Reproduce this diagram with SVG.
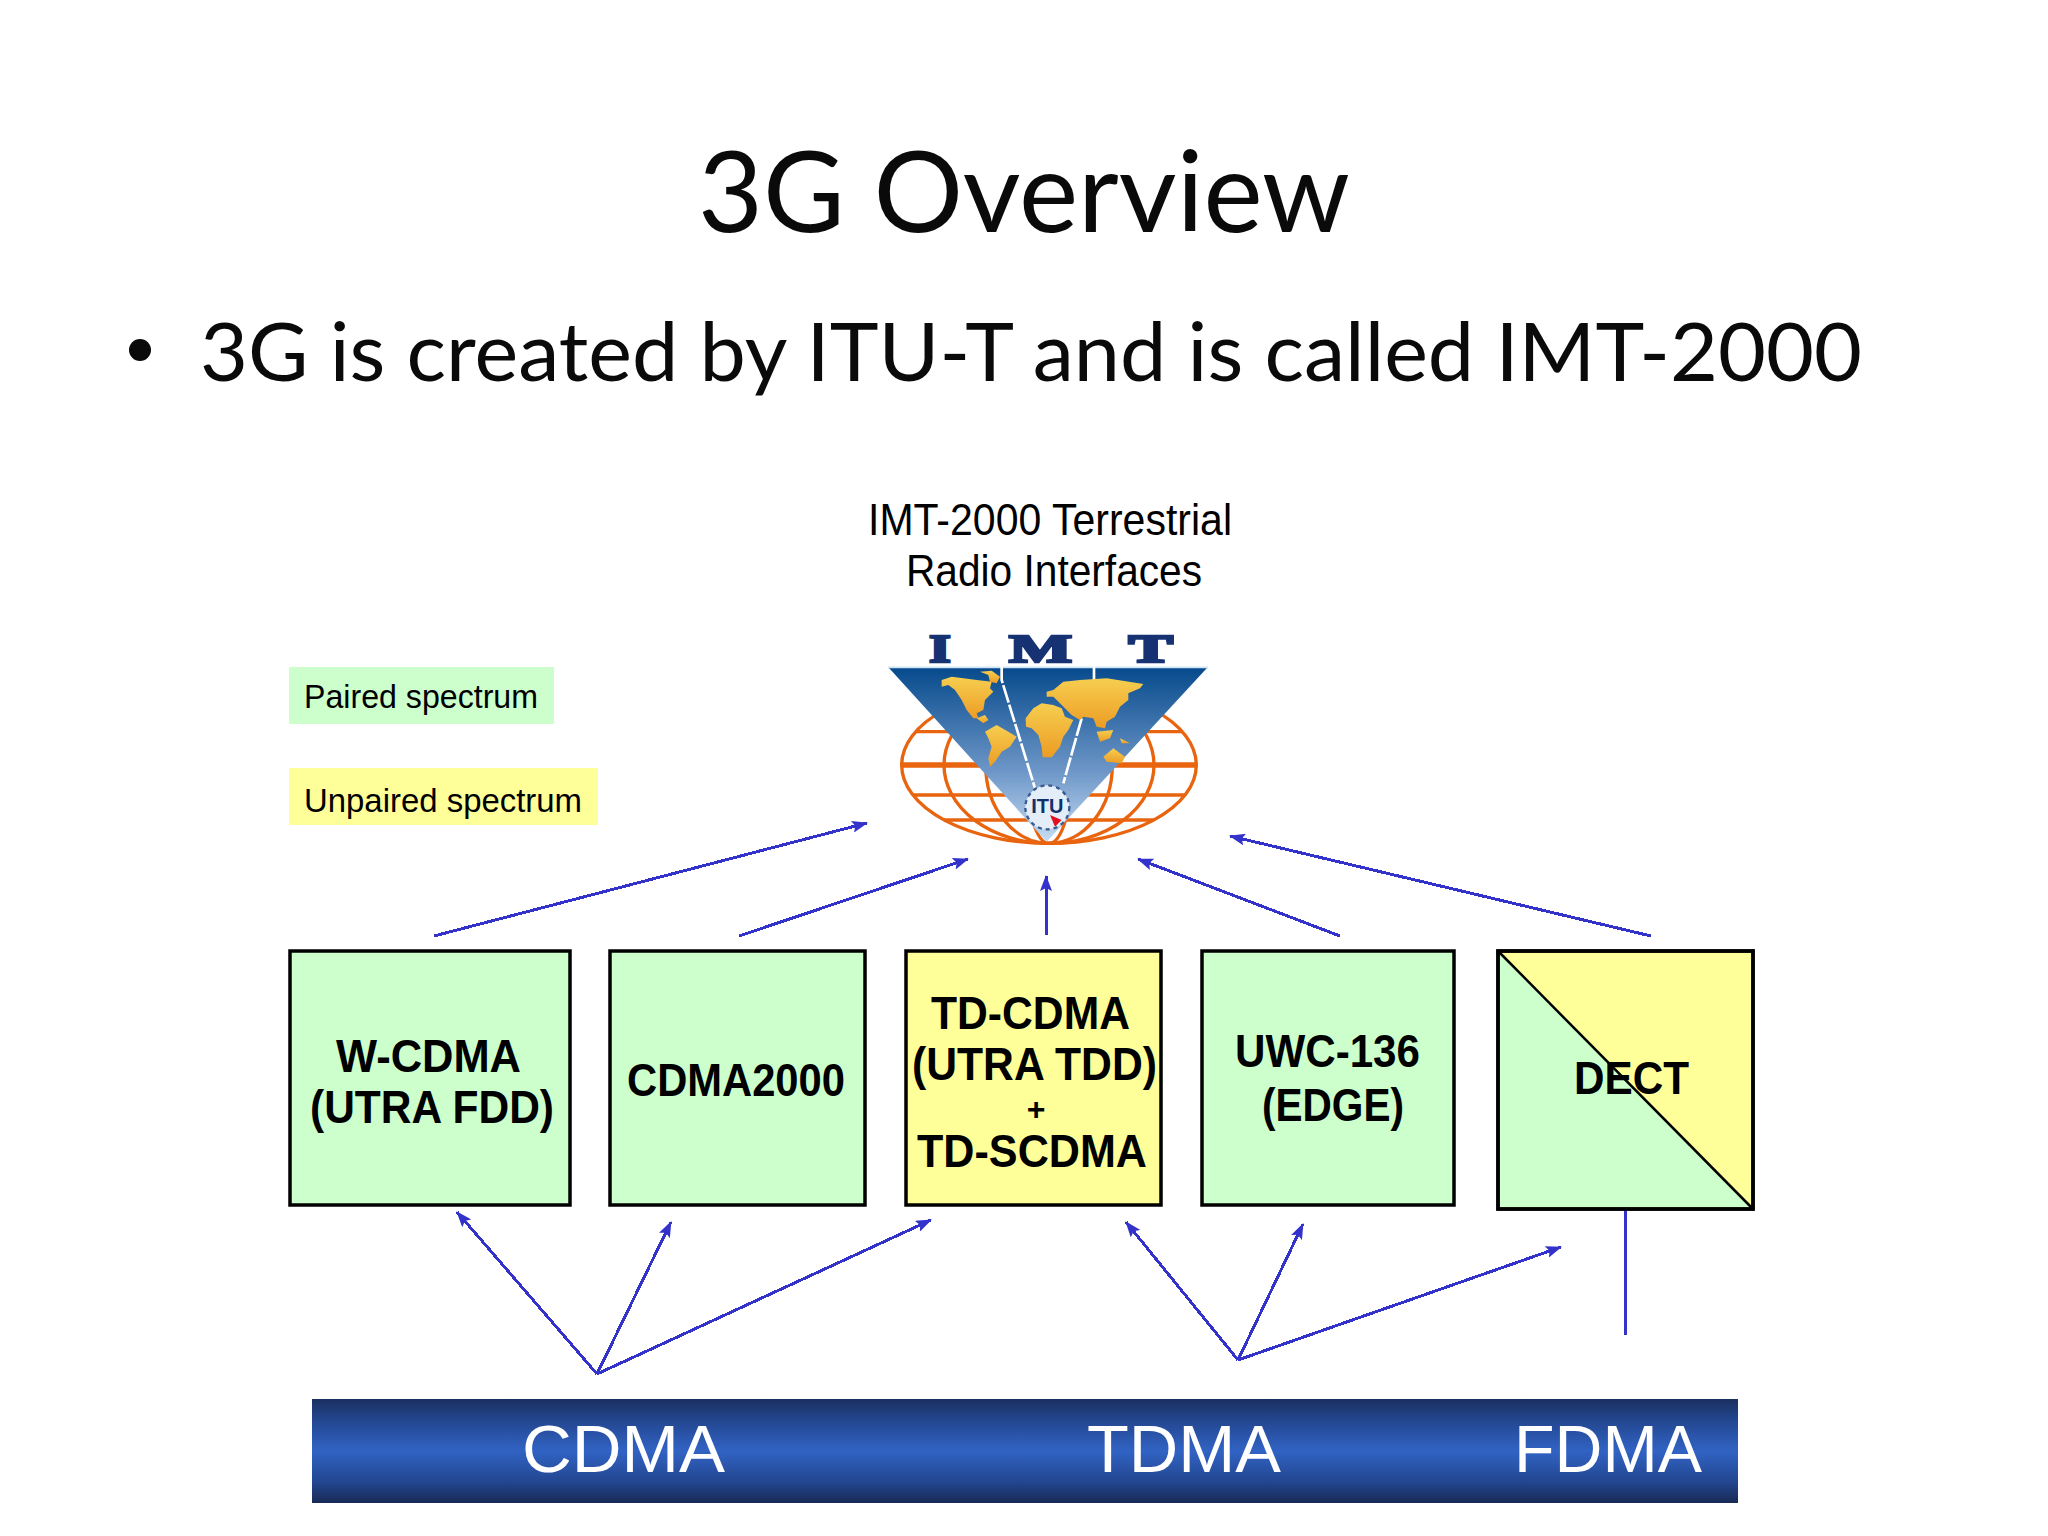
<svg xmlns="http://www.w3.org/2000/svg" width="2048" height="1536" viewBox="0 0 2048 1536">
<style>
.h{font-family:"Lato","Open Sans","Liberation Sans",sans-serif;fill:#0a0a0a}
.s{font-family:"Liberation Sans",Arial,sans-serif;fill:#000}
.b{font-weight:700;font-size:46px}
.box{stroke:#000;stroke-width:3.5}
.g{fill:#CCFFCC}.y{fill:#FFFF99}
.c line{stroke:#3333CC;stroke-width:3;fill:none;shape-rendering:crispEdges}
.a{marker-end:url(#ah)}
.w{font-family:"Liberation Sans",Arial,sans-serif;fill:#fff;font-size:67px}
.o{fill:none;stroke:#E8640F;stroke-width:10}
</style>
<defs>
<marker id="ah" viewBox="0 0 16 12" refX="15" refY="6" markerWidth="16" markerHeight="12" markerUnits="userSpaceOnUse" orient="auto"><path d="M0 0L16 6L0 12L3 6Z" fill="#3333CC"/></marker>
<linearGradient id="bar" x1="0" y1="0" x2="0" y2="1"><stop offset="0" stop-color="#1A3060"/><stop offset=".2" stop-color="#23468F"/><stop offset=".5" stop-color="#3163C4"/><stop offset=".8" stop-color="#23468F"/><stop offset="1" stop-color="#182A55"/></linearGradient>
<linearGradient id="tri" x1="0" y1="0" x2="0" y2="1"><stop offset="0" stop-color="#064A8C"/><stop offset=".6" stop-color="#6E97C8"/><stop offset="1" stop-color="#C6DCF2"/></linearGradient>
<linearGradient id="land" x1="0" y1="0" x2="0" y2="1"><stop offset="0" stop-color="#F6CE50"/><stop offset="1" stop-color="#EC9C24"/></linearGradient>
</defs>
<rect width="2048" height="1536" fill="#fff"/>
<text id="title" class="h" x="1024" y="232" font-size="112" text-anchor="middle" textLength="652" lengthAdjust="spacingAndGlyphs">3G Overview</text>
<g id="bullet"><circle cx="140" cy="350" r="11" fill="#0a0a0a"/>
<text class="h" x="200" y="381" font-size="82" textLength="1662" lengthAdjust="spacingAndGlyphs">3G is created by ITU-T and is called IMT-2000</text></g>
<g id="caption"><text class="s" x="868" y="535" font-size="45" textLength="364" lengthAdjust="spacingAndGlyphs">IMT-2000 Terrestrial</text>
<text class="s" x="906" y="586" font-size="45" textLength="296" lengthAdjust="spacingAndGlyphs">Radio Interfaces</text></g>
<g id="legend-paired"><rect class="g" x="289" y="667" width="265" height="57"/><text class="s" x="304" y="708" font-size="33" textLength="234" lengthAdjust="spacingAndGlyphs">Paired spectrum</text></g>
<g id="legend-unpaired"><rect class="y" x="289" y="768" width="309" height="57"/><text class="s" x="304" y="812" font-size="33" textLength="278" lengthAdjust="spacingAndGlyphs">Unpaired spectrum</text></g>
<g id="imt-logo" transform="translate(820 480) scale(.33333)">
<ellipse class="o" cx="687" cy="855" rx="442" ry="235"/>
<ellipse class="o" cx="687" cy="855" rx="315" ry="235"/>
<ellipse class="o" cx="687" cy="855" rx="190" ry="235"/>
<ellipse class="o" cx="687" cy="855" rx="70" ry="235"/>
<path class="o" d="M287 755H1087M372 1020H1002M279 945H1095"/>
<path class="o" style="stroke-width:16" d="M245 855H1130"/>
<path d="M205 562H1163L680 1085Z" fill="url(#tri)"/>
<path d="M205 562H1163" stroke="#cfe4f6" stroke-width="5"/>
<path d="M545 555V600L645 925M822 555V600M785 715L730 910" fill="none" stroke="#fff" stroke-width="8" stroke-dasharray="55 6"/>
<g fill="url(#land)">
<path d="M365 600L395 590L430 595L470 600L515 605L510 625L520 635L495 660L490 690L470 700L475 715L460 715L440 690L425 660L405 630L385 615L365 620Z"/>
<path d="M480 575L515 572L540 590L530 610L510 605L505 585Z"/>
<path d="M470 715L495 705L505 720L490 730Z"/>
<path d="M495 755L530 735L565 755L590 770L570 800L545 815L525 845L510 860L505 835L515 800L505 775Z"/>
<path d="M617 715L640 685L665 670L700 675L725 685L735 710L760 720L745 750L730 770L720 800L695 832L668 832L665 800L655 765L635 745L618 740Z"/>
<path d="M680 635L700 630L730 605L780 600L860 595L970 612L960 625L925 640L925 660L900 680L885 710L860 725L855 745L830 740L820 715L790 710L780 720L755 705L720 670L700 650L680 650Z"/>
<path d="M830 755L880 750L870 775L840 785Z"/>
<path d="M900 775L930 790L905 790Z"/>
<path d="M850 830L880 805L915 830L905 850L860 845Z"/>
</g>
<circle cx="682" cy="982" r="66" fill="#e4eef8" stroke="#3a5a90" stroke-width="7" stroke-dasharray="12 12"/>
<path d="M690 1005L725 1020L705 1040Z" fill="#E01020"/>
<text x="682" y="1000" font-family="Liberation Sans,sans-serif" font-weight="700" font-size="60" fill="#13306a" text-anchor="middle">ITU</text>
<g font-family="Liberation Serif,serif" font-weight="700" fill="#163272" stroke="#163272" stroke-width="8" font-size="118">
<text x="328" y="546" textLength="64" lengthAdjust="spacingAndGlyphs">I</text>
<text x="568" y="546" textLength="188" lengthAdjust="spacingAndGlyphs">M</text>
<text x="926" y="546" textLength="132" lengthAdjust="spacingAndGlyphs">T</text>
</g>
</g>
<g id="connectors" class="c">
<line class="a" x1="434" y1="936" x2="867" y2="823"/>
<line class="a" x1="739" y1="936" x2="968" y2="859"/>
<line class="a" x1="1046" y1="935" x2="1046" y2="876"/>
<line class="a" x1="1340" y1="936" x2="1138" y2="859"/>
<line class="a" x1="1651" y1="936" x2="1230" y2="836"/>
<line class="a" x1="597" y1="1374" x2="457" y2="1212"/>
<line class="a" x1="597" y1="1374" x2="671" y2="1222"/>
<line class="a" x1="597" y1="1374" x2="931" y2="1220"/>
<line class="a" x1="1238" y1="1360" x2="1126" y2="1222"/>
<line class="a" x1="1238" y1="1360" x2="1303" y2="1224"/>
<line class="a" x1="1238" y1="1360" x2="1561" y2="1247"/>
<line x1="1625" y1="1209" x2="1625" y2="1335"/>
</g>
<g id="node-wcdma"><rect class="box g" x="290" y="951" width="280" height="254"/>
<text class="s b" x="336" y="1072" textLength="185" lengthAdjust="spacingAndGlyphs">W-CDMA</text>
<text class="s b" x="310" y="1123" textLength="244" lengthAdjust="spacingAndGlyphs">(UTRA FDD)</text></g>
<g id="node-cdma2000"><rect class="box g" x="610" y="951" width="255" height="254"/>
<text class="s b" x="627" y="1096" textLength="218" lengthAdjust="spacingAndGlyphs">CDMA2000</text></g>
<g id="node-tdcdma"><rect class="box y" x="906" y="951" width="255" height="254"/>
<text class="s b" x="931" y="1029" textLength="199" lengthAdjust="spacingAndGlyphs">TD-CDMA</text>
<text class="s b" x="912" y="1080" textLength="245" lengthAdjust="spacingAndGlyphs">(UTRA TDD)</text>
<text class="s" x="1036" y="1120" text-anchor="middle" font-size="32" font-weight="700">+</text>
<text class="s b" x="917" y="1167" textLength="230" lengthAdjust="spacingAndGlyphs">TD-SCDMA</text></g>
<g id="node-uwc136"><rect class="box g" x="1202" y="951" width="252" height="254"/>
<text class="s b" x="1235" y="1067" textLength="185" lengthAdjust="spacingAndGlyphs">UWC-136</text>
<text class="s b" x="1262" y="1121" textLength="142" lengthAdjust="spacingAndGlyphs">(EDGE)</text></g>
<g id="node-dect"><rect class="box y" x="1498" y="951" width="255" height="258"/>
<path class="g" d="M1500 953L1751 1207H1500Z"/>
<rect x="1498" y="951" width="255" height="258" fill="none" stroke="#000" stroke-width="3.5"/>
<path d="M1499 952L1752 1208" stroke="#000" stroke-width="2.5"/>
<text class="s b" x="1574" y="1094" textLength="115" lengthAdjust="spacingAndGlyphs">DECT</text></g>
<g id="access-bar"><rect x="312" y="1399" width="1426" height="104" fill="url(#bar)"/>
<text class="w" x="522" y="1472" textLength="203" lengthAdjust="spacingAndGlyphs">CDMA</text>
<text class="w" x="1087" y="1472" textLength="194" lengthAdjust="spacingAndGlyphs">TDMA</text>
<text class="w" x="1514" y="1472" textLength="188" lengthAdjust="spacingAndGlyphs">FDMA</text></g>
</svg>
